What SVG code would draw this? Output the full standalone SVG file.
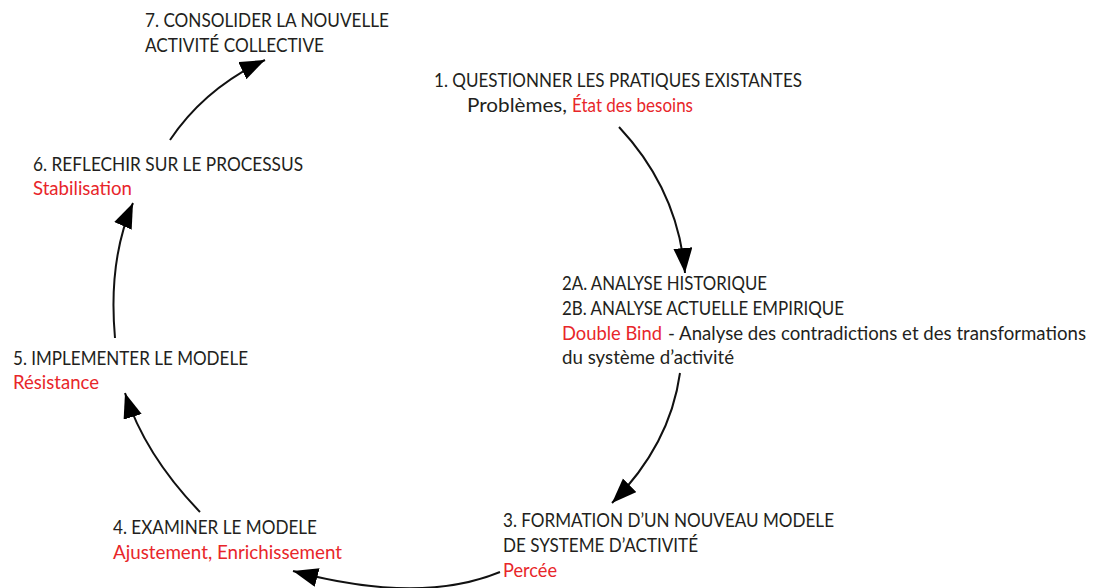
<svg xmlns="http://www.w3.org/2000/svg" width="1093" height="588" viewBox="0 0 1093 588">
<style>
text{font-family:Lato,"Open Sans","Liberation Sans",sans-serif;font-size:18.5px;fill:#231f20}
.r{fill:#e8262a}
.c{fill:none;stroke:#111;stroke-width:2}
</style>
<defs>
<marker id="ah" markerUnits="userSpaceOnUse" markerWidth="27" markerHeight="20" refX="25" refY="9.5" orient="auto">
<path d="M0,0 L25,9.5 L0,19 z" fill="#000"/>
</marker>
</defs>
<rect width="1093" height="588" fill="#fff"/>
<g id="connectors">
<path class="c" d="M619,127 Q678,190 685,273" marker-end="url(#ah)"/>
<path class="c" d="M680,373 Q670,445 612,503" marker-end="url(#ah)"/>
<path class="c" d="M500,572 Q420,605 293,571" marker-end="url(#ah)"/>
<path class="c" d="M200,512 Q145,455 125,393" marker-end="url(#ah)"/>
<path class="c" d="M115,338 Q108,260 133,203" marker-end="url(#ah)"/>
<path class="c" d="M170,140 Q205,88 265,60" marker-end="url(#ah)"/>
</g>
<g id="n7">
<text x="145" y="27" textLength="244" lengthAdjust="spacingAndGlyphs">7. CONSOLIDER LA NOUVELLE</text>
<text x="145" y="52" textLength="179" lengthAdjust="spacingAndGlyphs">ACTIVITÉ COLLECTIVE</text>
</g>
<g id="n1">
<text x="434" y="87" textLength="368" lengthAdjust="spacingAndGlyphs">1. QUESTIONNER LES PRATIQUES EXISTANTES</text>
<text x="467" y="112" textLength="100" lengthAdjust="spacingAndGlyphs">Problèmes,</text>
<text class="r" x="572" y="112" textLength="121" lengthAdjust="spacingAndGlyphs">État des besoins</text>
</g>
<g id="n2">
<text x="562" y="290" textLength="205" lengthAdjust="spacingAndGlyphs">2A. ANALYSE HISTORIQUE</text>
<text x="562" y="315" textLength="282" lengthAdjust="spacingAndGlyphs">2B. ANALYSE ACTUELLE EMPIRIQUE</text>
<text class="r" x="562" y="340" textLength="100" lengthAdjust="spacingAndGlyphs">Double Bind</text>
<text x="668" y="340" textLength="418" lengthAdjust="spacingAndGlyphs">- Analyse des contradictions et des transformations</text>
<text x="562" y="364" textLength="172" lengthAdjust="spacingAndGlyphs">du système d’activité</text>
</g>
<g id="n3">
<text x="503" y="527" textLength="331" lengthAdjust="spacingAndGlyphs">3. FORMATION D’UN NOUVEAU MODELE</text>
<text x="503" y="552" textLength="195" lengthAdjust="spacingAndGlyphs">DE SYSTEME D’ACTIVITÉ</text>
<text class="r" x="503" y="577" textLength="54" lengthAdjust="spacingAndGlyphs">Percée</text>
</g>
<g id="n4">
<text x="113" y="534" textLength="204" lengthAdjust="spacingAndGlyphs">4. EXAMINER LE MODELE</text>
<text class="r" x="113" y="559" textLength="229" lengthAdjust="spacingAndGlyphs">Ajustement, Enrichissement</text>
</g>
<g id="n5">
<text x="13" y="365" textLength="235" lengthAdjust="spacingAndGlyphs">5. IMPLEMENTER LE MODELE</text>
<text class="r" x="13" y="389" textLength="86" lengthAdjust="spacingAndGlyphs">Résistance</text>
</g>
<g id="n6">
<text x="33" y="171" textLength="270" lengthAdjust="spacingAndGlyphs">6. REFLECHIR SUR LE PROCESSUS</text>
<text class="r" x="33" y="195" textLength="99" lengthAdjust="spacingAndGlyphs">Stabilisation</text>
</g>
</svg>
